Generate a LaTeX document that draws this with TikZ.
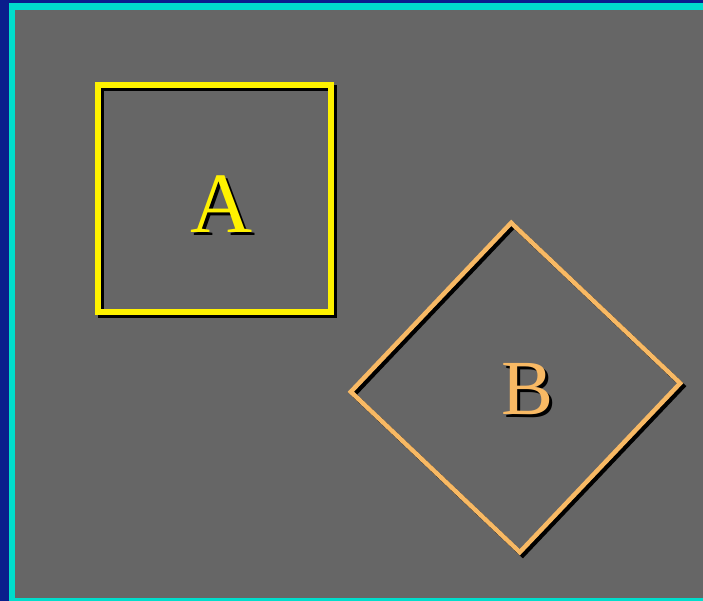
\documentclass[tikz,border=0pt]{standalone}
\usepackage{fontspec}
\setmainfont{Liberation Serif}
\usepackage{tikz}
\usetikzlibrary{positioning}

\definecolor{navyedge}{RGB}{10,30,140}
\definecolor{cyanedge}{RGB}{0,221,204}
\definecolor{panelgray}{RGB}{102,102,102}
\definecolor{orangeB}{RGB}{248,185,100}

\begin{document}
\begin{tikzpicture}[
  x=1pt, y=-1pt,
  frameA/.style={draw, rectangle, line width=5.5pt, inner sep=0pt,
                 minimum width=233pt, minimum height=227pt},
  frameB/.style={draw, rectangle, line width=4.5pt, inner sep=0pt,
                 minimum size=233pt, rotate=-43.5},
  letter/.style={inner sep=0pt},
]
% background and edges
\fill[navyedge]  (0,0)  rectangle (703,601);
\fill[cyanedge]  (9,3)  rectangle (703,601);
\fill[panelgray] (15,10) rectangle (703,598);

% shadows
\node[frameA, draw=black] (shadowA) at (217.5,201.5) {};
\node[frameB, draw=black] (shadowB) at (518.5,390.5) {};
\node[letter, text=black, font=\fontsize{86}{86}\selectfont] (shadowlabelA) at (225,207) {A};
\node[letter, text=black, font=\fontsize{78}{78}\selectfont] (shadowlabelB) at (531,392) {B};

% shapes
\node[frameA, draw=yellow] (boxA) at (214.5,198.5) {};
\node[frameB, draw=orangeB] (boxB) at (515.5,387.5) {};
\node[letter, text=yellow, font=\fontsize{86}{86}\selectfont] (labelA) at (222,204) {A};
\node[letter, text=orangeB, font=\fontsize{78}{78}\selectfont] (labelB) at (528,389) {B};
\end{tikzpicture}
\end{document}
